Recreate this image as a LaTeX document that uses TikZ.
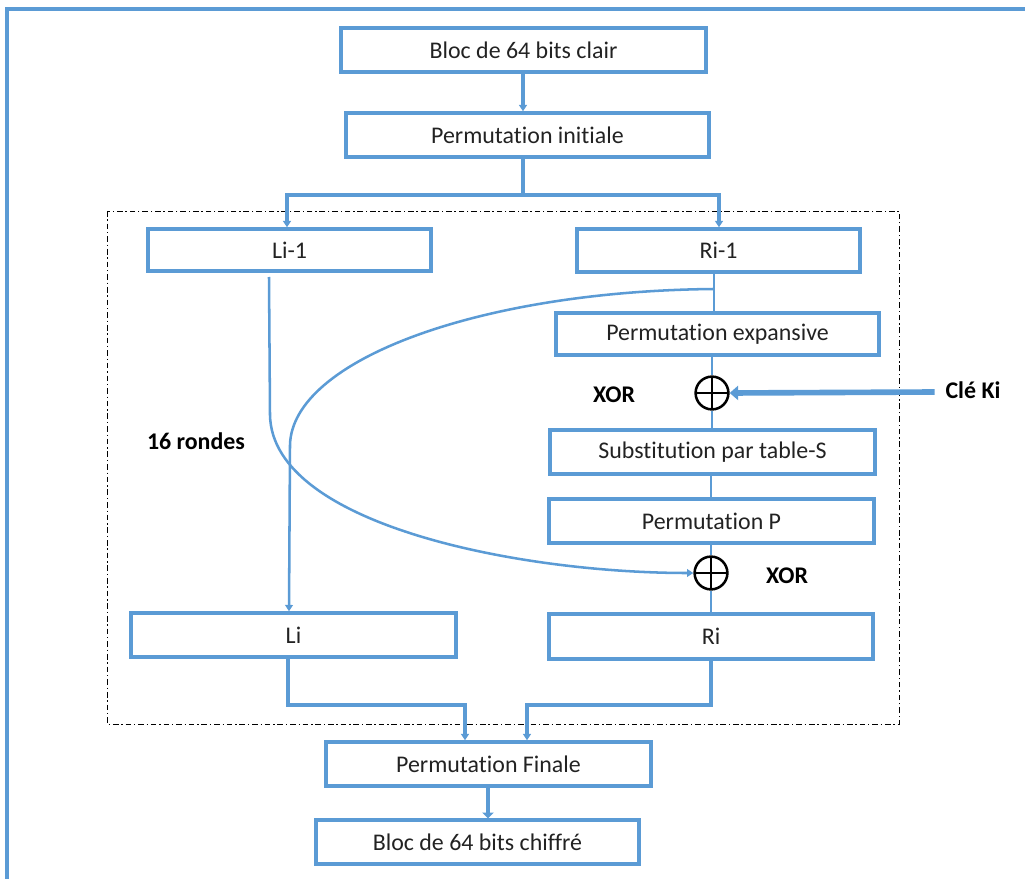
\documentclass[tikz,border=0pt]{standalone}
\usepackage{fontspec}
\setmainfont{Carlito}[Ligatures={NoCommon,NoRequired}]
\usetikzlibrary{arrows.meta}
\definecolor{linkblue}{HTML}{5B9BD5}
\definecolor{ink}{HTML}{222222}

\begin{document}
\begin{tikzpicture}[x=0.025cm,y=-0.025cm,
  box/.style={draw=linkblue, line width=2.4pt, minimum height=1.1cm, inner sep=0pt,
              text=ink, font=\fontsize{17}{20}\selectfont},
  wire/.style={draw=linkblue, line width=1.8pt},
  heavy/.style={draw=linkblue, line width=2.4pt},
  tip/.style={-{Triangle[width=5.5pt,length=4.5pt]}},
  xorsym/.style={circle, draw=black, line width=1.8pt, minimum size=0.82cm, inner sep=0pt,
    path picture={\draw[line width=1.8pt]
      (path picture bounding box.north) -- (path picture bounding box.south)
      (path picture bounding box.west) -- (path picture bounding box.east);}},
  lbl/.style={text=black, font=\fontsize{17}{20}\selectfont\bfseries},
  roundframe/.style={draw=black, line width=0.7pt, dash pattern=on 4pt off 2pt on 1pt off 2pt}]

\useasboundingbox (0,0) rectangle (1025,879);

% outer frame
\draw[linkblue, line width=2.4pt] (7,1000) |- (1100,9);

% round frame
\draw[roundframe] (107,211) rectangle (899,724);

% boxes
\node[box, minimum width=9.125cm] (plain) at (523.5,50) {Bloc de 64 bits clair};
\node[box, minimum width=9.075cm] (ip) at (527.5,135) {Permutation initiale};
\node[box, minimum width=7.075cm, minimum height=1.05cm] (lprev) at (289.5,250) {Li-1};
\node[box, minimum width=7.075cm, minimum height=1.075cm] (rprev) at (718.5,250.5) {Ri-1};
\node[box, minimum width=8.075cm, minimum height=1.05cm] (pexp) at (717.5,334) {Permutation expansive};
\node[box, minimum width=8.125cm] (sbox) at (712.5,452) {Substitution par table-S};
\node[box, minimum width=8.125cm] (pperm) at (711.5,521) {Permutation P};
\node[box, minimum width=8.125cm] (lnext) at (293.5,635) {Li};
\node[box, minimum width=8.1cm, minimum height=1.125cm] (rnext) at (711,636.5) {Ri};
\node[box, minimum width=8.125cm] (fp) at (488.5,764) {Permutation Finale};
\node[box, minimum width=8.075cm] (cipher) at (477.5,842) {Bloc de 64 bits chiffré};

% xor gates
\node[xorsym] (xa) at (712,393) {};
\node[xorsym] (xb) at (711,573) {};

% labels
\node[lbl] (xorla) at (614,395) {XOR};
\node[lbl] (xorlb) at (787,576) {XOR};
\node[lbl] (key) at (973,390) {Clé Ki};
\node[lbl] (rounds) at (196,441) {16 rondes};

% top of the flow
\draw[heavy, tip] (plain.south -| 523,0) -- (ip.north -| 523,0);
\coordinate (split) at (523,195);
\draw[heavy] (ip.south -| split) -- (split);
\draw[heavy, tip] (split) -| (lprev.north -| 287,0);
\draw[heavy, tip] (split) -| (rprev.north -| 719,0);

% right half of the round function
\coordinate (tap) at (714,289);
\draw[wire] (rprev.south -| tap) -- (pexp.north -| tap);
\draw[wire] (pexp.south -| xa) -- (xa);
\draw[wire] (xa) -- (sbox.north -| xa);
\draw[wire] (sbox.south -| xb) -- (pperm.north -| xb);
\draw[wire] (pperm.south -| xb) -- (xb);
\draw[wire] (xb) -- (rnext.north -| xb);

% round key
\draw[linkblue, line width=4pt, -{Triangle[width=10pt,length=6pt]}] (key.west) ++(-6,2) coordinate (keystart) -- (xa.east);

% Li-1 crosses to the second xor
\coordinate (lstart) at (269,277);
\draw[wire, tip] (lstart) -- (270,415) .. controls (272,525) and (520,573) .. (xb.west);

% Ri-1 becomes Li
\draw[wire, tip] (tap) .. controls (480,291) and (292,360) .. (290,445) -- (lnext.north -| 289,0);

% merge into the final permutation
\draw[heavy, tip] (lnext.south -| 288,0) |- (465,705) -- (fp.north -| 465,0);
\draw[heavy, tip] (rnext.south -| 711,0) |- (527,705) -- (fp.north -| 527,0);
\draw[linkblue, line width=3.5pt, -{Triangle[width=8pt,length=4pt]}] (fp.south -| 488,0) -- (cipher.north -| 488,0);

\end{tikzpicture}
\end{document}
